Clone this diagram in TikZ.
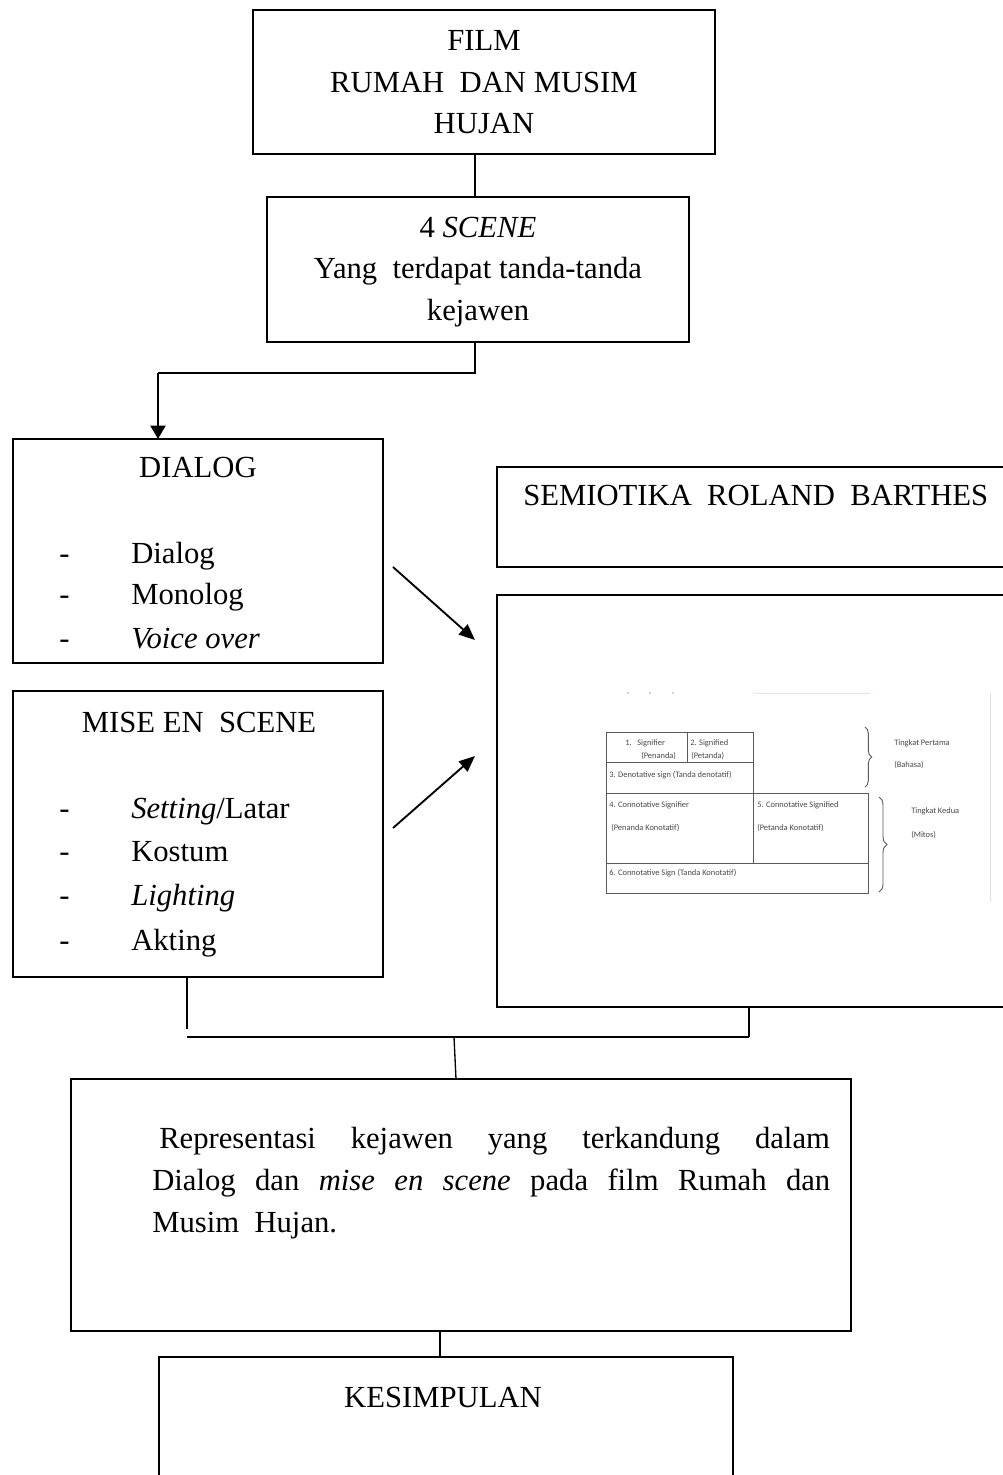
\documentclass[tikz,border=0pt]{standalone}
\usepackage{fontspec}
\setmainfont{Liberation Serif}
\newfontfamily\tabfont{Carlito}
\usetikzlibrary{arrows.meta,decorations.pathreplacing}
\begin{document}
\begin{tikzpicture}[x=0.75pt,y=-0.75pt,
  box/.style={draw, line width=1.6pt, anchor=north west, inner sep=0pt, outer sep=0pt},
  conn/.style={line width=1.4pt},
  txt/.style={anchor=base, inner sep=0pt, font=\fontsize{23}{31.5}\selectfont},
  ltxt/.style={anchor=base west, inner sep=0pt, font=\fontsize{23}{31.5}\selectfont},
  tab/.style={anchor=base west, inner sep=0pt, font=\tabfont\fontsize{6.3}{7}\selectfont, text=black!72},
  tline/.style={draw=black!65, line width=0.7pt},
  arr/.style={line width=1.4pt, -{Triangle[width=10pt,length=12pt]}},
  bigarr/.style={line width=2.2pt, -{Triangle[width=11pt,length=10pt]}}
]
\useasboundingbox (0,0) rectangle (1003,1475);
\clip (0,0) rectangle (1003,1475);

% boxes
\node[box, minimum width=346.5pt, minimum height=108pt] (film) at (253,10) {};
\node[box, minimum width=316.5pt, minimum height=108.75pt] (scene) at (267,197) {};
\node[box, minimum width=277.5pt, minimum height=168pt] (dialog) at (13,439) {};
\node[box, minimum width=277.5pt, minimum height=214.5pt] (mise) at (13,691) {};
\node[box, minimum width=384.75pt, minimum height=75pt] (semio) at (497,467) {};
\node[box, minimum width=384.75pt, minimum height=309pt] (img) at (497,595) {};
\node[box, minimum width=585pt, minimum height=189pt] (repr) at (71,1079) {};
\node[box, minimum width=430.5pt, minimum height=92.25pt] (kes) at (159,1357) {};

% texts
\node[txt] (f1) at (484,50) {FILM};
\node[txt] (f2) at (484,92) {RUMAH\ \ DAN MUSIM};
\node[txt] (f3) at (484,133) {HUJAN};
\node[txt] (s1) at (478,237) {4 \textit{SCENE}};
\node[txt] (s2) at (478,278) {Yang\ \ terdapat tanda-tanda};
\node[txt] (s3) at (478,320) {kejawen};

\node[txt] (dt) at (198,477) {DIALOG};
\node[ltxt] (dd1) at (59,563) {-};
\node[ltxt] (dd2) at (59,604) {-};
\node[ltxt] (dd3) at (59,648) {-};
\node[ltxt] (di1) at (131,563) {Dialog};
\node[ltxt] (di2) at (131,604) {Monolog};
\node[ltxt] (di3) at (131,648) {\textit{Voice\ over}};

\node[txt] (mt) at (199,732) {MISE EN\ \ SCENE};
\node[ltxt] (md1) at (59,818) {-};
\node[ltxt] (md2) at (59,861) {-};
\node[ltxt] (md3) at (59,905) {-};
\node[ltxt] (md4) at (59,950) {-};
\node[ltxt] (mi1) at (131,818) {\textit{Setting}/Latar};
\node[ltxt] (mi2) at (131,861) {Kostum};
\node[ltxt] (mi3) at (131,905) {\textit{Lighting}};
\node[ltxt] (mi4) at (131,950) {Akting};

\node[ltxt] (st) at (523,505) {SEMIOTIKA\ \ ROLAND\ \ BARTHES};

\node[ltxt] (r1) at (159,1148) {\makebox[503pt][s]{Representasi kejawen yang terkandung dalam}};
\node[ltxt] (r2) at (152,1190) {\makebox[508.5pt][s]{Dialog dan \textit{mise en scene} pada film Rumah dan}};
\node[ltxt] (r3) at (152,1232) {Musim\ \ Hujan.};

\node[txt] (kt) at (443,1407) {KESIMPULAN};

% embedded table picture
\draw[tline] (606,732) rectangle (753,793);
\draw[tline] (687,732) -- (687,762);
\draw[tline] (606,762) -- (753,762);
\draw[tline] (606,793) rectangle (868,893);
\draw[tline] (753,793) -- (753,863);
\draw[tline] (606,863) -- (868,863);
\draw[tline, decorate, decoration={brace, amplitude=5pt}] (865,727) -- (865,787);
\draw[tline, decorate, decoration={brace, amplitude=6pt}] (879,797) -- (879,892);
\draw[black!12, line width=0.6pt] (990,693) -- (990,902);
\draw[green!25, line width=0.6pt] (755,693) -- (870,693);
\foreach \xx in {628,650,673} \fill[black!35] (\xx,693) circle (0.6pt);
\node[tab] (t1) at (625,745) {1.\ \ \ Signifier};
\node[tab] (t1b) at (641,758) {(Penanda)};
\node[tab] (t2) at (690,745) {2. Signified};
\node[tab] (t2b) at (691,758) {(Petanda)};
\node[tab] (t3) at (609,777) {3. Denotative sign (Tanda denotatif)};
\node[tab] (t4) at (609,807) {4. Connotative Signifier};
\node[tab] (t4b) at (611,830) {(Penanda Konotatif)};
\node[tab] (t5) at (757,807) {5. Connotative Signified};
\node[tab] (t5b) at (757,830) {(Petanda Konotatif)};
\node[tab] (t6) at (609,875) {6. Connotative Sign (Tanda Konotatif)};
\node[tab] (tp) at (894,745) {Tingkat Pertama};
\node[tab] (tpb) at (894,767) {(Bahasa)};
\node[tab] (tk) at (911,813) {Tingkat Kedua};
\node[tab] (tkb) at (911,837) {(Mitos)};

% connectors
\coordinate (cx) at (475,0);
\coordinate (bend) at (158,373);
\draw[conn] (film.south -| cx) -- (scene.north -| cx);
\draw[conn] (scene.south -| cx) |- (bend);
\draw[bigarr] (bend) -- (dialog.north -| bend);

\coordinate (a1s) at (393,567);
\coordinate (a1e) at (475,640);
\draw[arr] (a1s) -- (a1e);
\coordinate (a2s) at (393,828);
\coordinate (a2e) at (475,756);
\draw[arr] (a2s) -- (a2e);

\coordinate (mx) at (187,1029);
\coordinate (hl) at (187,1037);
\coordinate (hr) at (749,1037);
\coordinate (hm) at (454,1037);
\draw[conn] (mise.south -| mx) -- (mx);
\draw[conn] (hl) -- (hr);
\draw[conn] (img.south -| hr) -- (hr);
\draw[line width=1pt] (hm) -- (repr.north -| 456,0);
\coordinate (kx) at (440,0);
\draw[conn] (repr.south -| kx) -- (kes.north -| kx);
\end{tikzpicture}
\end{document}
